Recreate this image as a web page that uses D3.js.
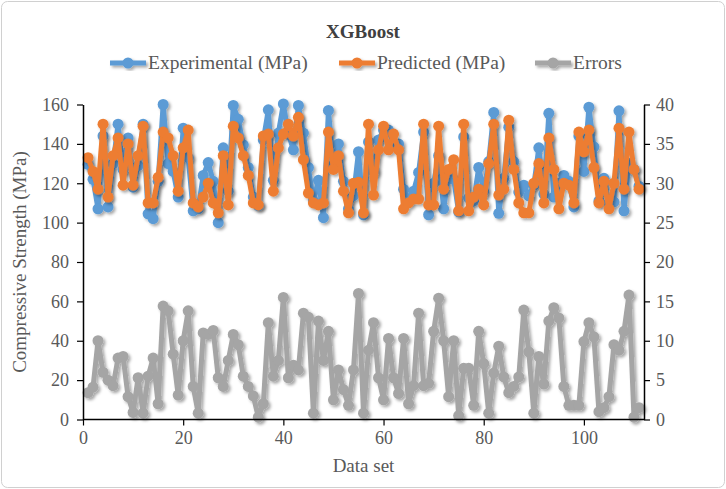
<!DOCTYPE html>
<html>
<head>
<meta charset="utf-8">
<script src="https://cdn.jsdelivr.net/npm/d3@7"></script>
<style>
  body { margin: 0; background: #fff; }
  svg { display: block; }
</style>
</head>
<body>
<div id="chart"></div>
<script>
// values, data set 1..111
const experimental = [129.6,122,107,144,108,130,150,127,143,118,129,150,104.5,102,121,160,130,126,113,148,
  133,106,107,124,130.5,121,100,138,116,159.5,152.5,139.5,128,113,108.7,142,157.3,121.5,145.5,160.3,
  145,137,159.5,145.5,128,111,121.5,102.5,157,129.5,140,121,107,113.7,136,104,141,126,142,147,
  147,140,140,117,112,116,125.5,146,104,120,134,107,124,122,105.5,143.5,112.5,111,128,116,
  131,156,104.7,122.5,148.5,131,115.5,119,113.6,119,138,114.5,155.5,113,120,124,121,108,144,126,
  158.6,138.5,111,122.5,110,110.5,156.8,106,130,127,118.5];

const predicted = [133,126,117,150,113,134,143,119,140,119,134,149,110,110,123,146,143,134,116,138,
  147,110,108,113,120,110,105,134,109,149,143,134,124,110,109,144,145,116,138,145,
  150,144,153.5,132,115,110,109,110,146,127,134,116,105,120,120.5,105,150,114,137,149,
  137,145,137,107,110,112,112,150,109,109,149,117,127,132,106,150,106,113,117,109,
  130,150,114,117,152,127,110,105,105,120,130,110,143,127,107,120,119,110,146,136,
  147,128,110,121,107,120,148,117,146,127,117];

// errors are on the right axis (0-40)
const errors = [3.4,4.1,10,6,5,4.3,7.8,8,2.9,0.9,5.3,0.8,5.5,7.8,2,14.4,13.8,8.3,3.1,10,
  13.8,4.2,0.8,11,10.8,11.3,5.3,4.2,7.5,10.8,9.5,5.5,4.2,3,0.3,2,12.3,5.5,7.5,15.5,
  5.3,6.9,6.3,13.5,13,0.8,12.5,7.5,11.2,2.5,6.3,3.8,1.8,6.3,16,0.8,8.8,12.3,5.3,2.5,
  10.3,5.3,3.3,10.3,2,4.3,13.5,4.3,4.6,11.2,15.4,10,2.9,10,0.5,6.5,6.5,1.8,11.2,7.1,
  0.8,5.9,9.3,5.4,3.4,4.2,5.4,13.9,8.6,0.8,8,4.5,12.5,14.2,12.9,4.2,1.8,1.8,1.8,9.9,
  12.3,10.5,1,1.5,2.9,9.5,8.8,11.2,15.8,0.3,1.5];

const leftTicks = [0, 20, 40, 60, 80, 100, 120, 140, 160];
const rightTicks = [0, 5, 10, 15, 20, 25, 30, 35, 40];
const xTicks = [0, 20, 40, 60, 80, 100];

const seriesNames = ["Experimental (MPa)", "Predicted (MPa)", "Errors"];
const colors = ["#5B9BD5", "#ED7D31", "#A5A5A5"];

const width = 726, height = 489;
const margin = { top: 104.5, right: 82, bottom: 69.5, left: 83 };
const font = "'Liberation Serif', 'Times New Roman', serif";

const svg = d3.select("#chart").append("svg")
  .attr("width", width)
  .attr("height", height);

const defs = svg.append("defs");
const shadow = defs.append("filter")
  .attr("id", "shadow")
  .attr("x", "-10%").attr("y", "-10%")
  .attr("width", "130%").attr("height", "130%");
shadow.append("feDropShadow")
  .attr("dx", 2).attr("dy", 2)
  .attr("stdDeviation", 1.6)
  .attr("flood-color", "#000")
  .attr("flood-opacity", 0.35);

// chart border
svg.append("rect")
  .attr("x", 1.5).attr("y", 1.5)
  .attr("width", width - 3).attr("height", height - 3)
  .attr("rx", 6)
  .attr("fill", "#fff")
  .attr("stroke", "#d0d0d0");

const x = d3.scaleLinear().domain([0, 112]).range([margin.left, width - margin.right]);
const yL = d3.scaleLinear().domain([0, 160]).range([height - margin.bottom, margin.top]);
const yR = d3.scaleLinear().domain([0, 40]).range([height - margin.bottom, margin.top]);

const idx = d3.range(1, experimental.length + 1);

function drawSeries(values, scale, color) {
  const pts = values.map((v, i) => [x(idx[i]), scale(v)]);
  const g = svg.append("g").attr("filter", "url(#shadow)");
  g.append("path")
    .datum(pts)
    .attr("fill", "none")
    .attr("stroke", color)
    .attr("stroke-width", 5)
    .attr("stroke-linejoin", "round")
    .attr("d", d3.line());
  g.selectAll("circle")
    .data(pts)
    .join("circle")
    .attr("cx", d => d[0])
    .attr("cy", d => d[1])
    .attr("r", 5.5)
    .attr("fill", color);
}

drawSeries(errors, yR, colors[2]);
drawSeries(experimental, yL, colors[0]);
drawSeries(predicted, yL, colors[1]);

// axes
const axisStyle = g => {
  g.selectAll("path").attr("stroke", "#000").attr("stroke-width", 1.5);
  g.selectAll("line").attr("stroke", "#000").attr("stroke-width", 1.2);
  g.selectAll("text")
    .attr("font-family", font)
    .attr("font-size", 18)
    .attr("fill", "#595959");
};

svg.append("g")
  .attr("transform", `translate(${margin.left},0)`)
  .call(d3.axisLeft(yL).tickValues(leftTicks).tickSize(6).tickPadding(8).tickSizeOuter(0))
  .call(axisStyle);

svg.append("g")
  .attr("transform", `translate(${width - margin.right},0)`)
  .call(d3.axisRight(yR).tickValues(rightTicks).tickSize(6).tickPadding(6).tickSizeOuter(0))
  .call(axisStyle);

svg.append("g")
  .attr("transform", `translate(0,${height - margin.bottom})`)
  .call(d3.axisBottom(x).tickValues(xTicks).tickSize(6).tickPadding(6).tickSizeOuter(0))
  .call(axisStyle)
  .call(g => g.select(".domain").attr("d", `M${margin.left},0H${width - margin.right}`));

// title
svg.append("text")
  .attr("x", 363).attr("y", 38)
  .attr("text-anchor", "middle")
  .attr("font-family", font)
  .attr("font-weight", "bold")
  .attr("font-size", 19)
  .attr("fill", "#404040")
  .text("XGBoost");

// axis titles
svg.append("text")
  .attr("transform", `translate(26,${(margin.top + height - margin.bottom) / 2}) rotate(-90)`)
  .attr("text-anchor", "middle")
  .attr("font-family", font)
  .attr("font-size", 19)
  .attr("fill", "#595959")
  .text("Compressive Strength (MPa)");

svg.append("text")
  .attr("x", (margin.left + width - margin.right) / 2)
  .attr("y", 472)
  .attr("text-anchor", "middle")
  .attr("font-family", font)
  .attr("font-size", 19)
  .attr("fill", "#595959")
  .text("Data set");

// legend
const legendX = [110, 339, 535];
const legend = svg.append("g");
seriesNames.forEach((name, i) => {
  const lg = legend.append("g").attr("transform", `translate(${legendX[i]},63)`);
  const s = lg.append("g").attr("filter", "url(#shadow)");
  s.append("line")
    .attr("x1", 0).attr("x2", 36)
    .attr("stroke", colors[i]).attr("stroke-width", 5);
  s.append("circle").attr("cx", 18).attr("r", 5.5).attr("fill", colors[i]);
  lg.append("text")
    .attr("x", 38).attr("y", 6)
    .attr("font-family", font)
    .attr("font-size", 19.5)
    .attr("fill", "#595959")
    .text(name);
});
</script>
</body>
</html>
